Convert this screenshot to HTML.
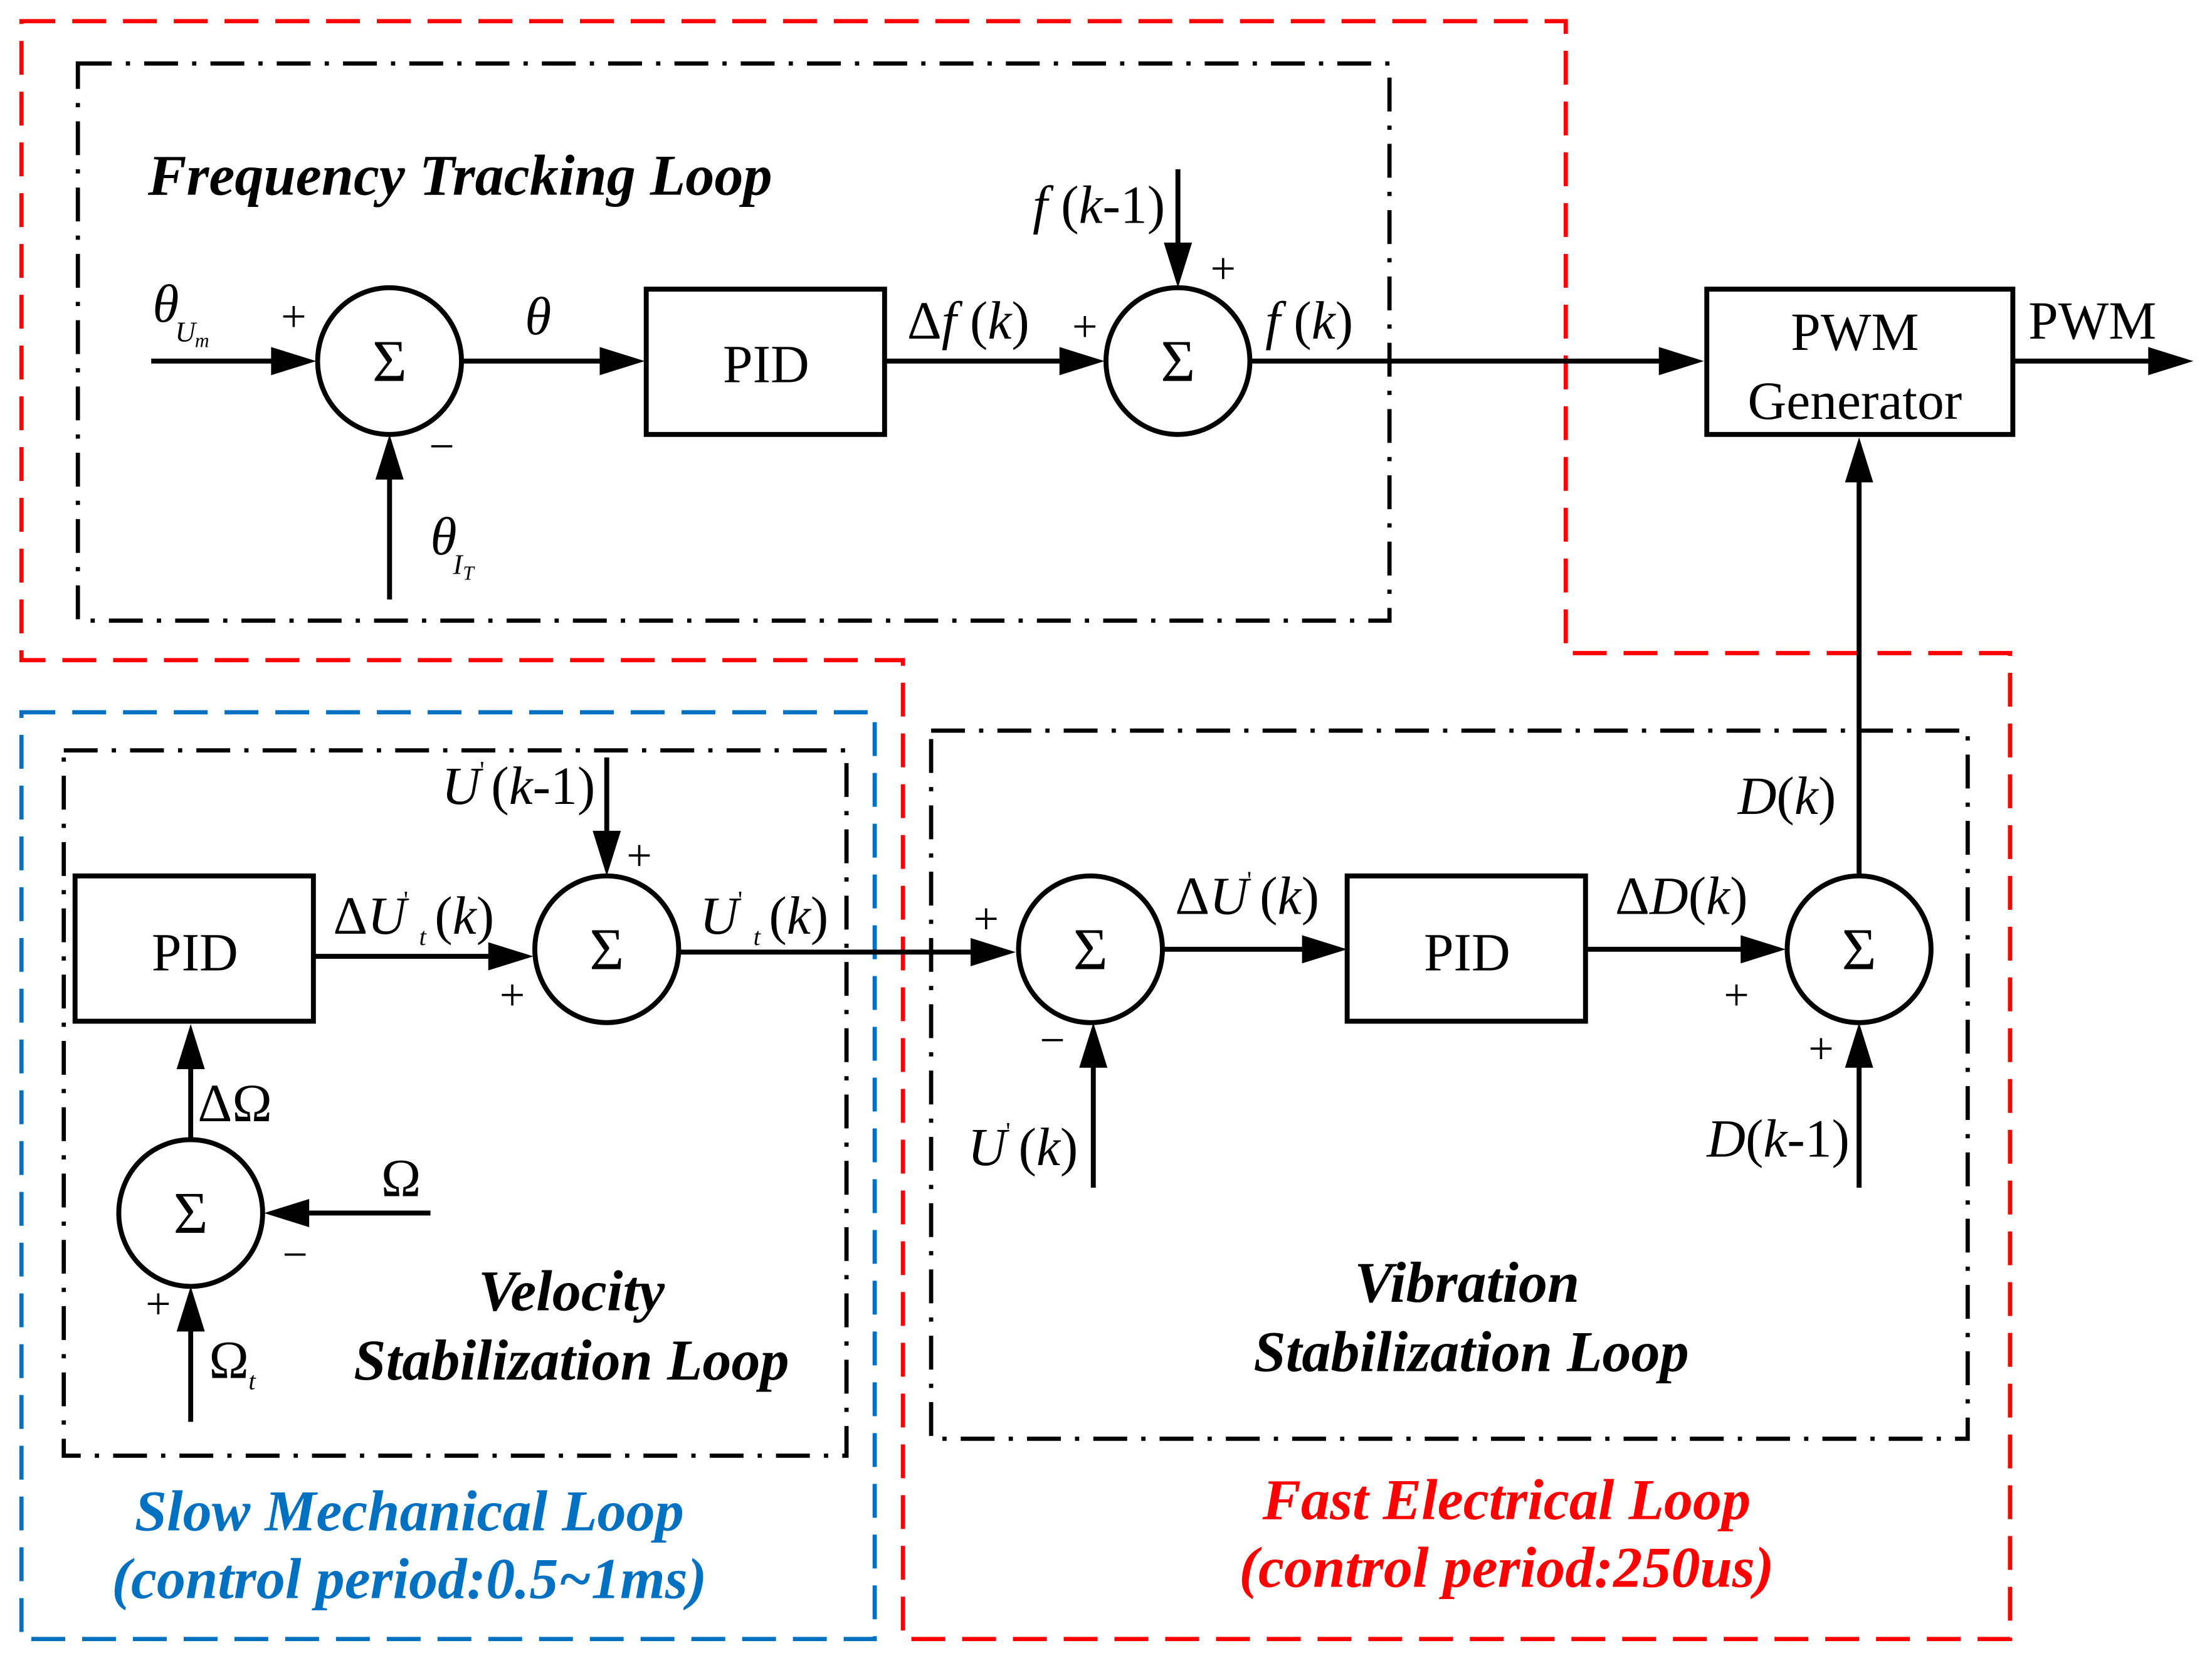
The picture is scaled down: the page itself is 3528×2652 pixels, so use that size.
<!DOCTYPE html>
<html><head><meta charset="utf-8"><style>
html,body{margin:0;padding:0;background:#fff;}
svg{display:block;}
svg text{font-family:"Liberation Serif","DejaVu Serif",serif;fill:#000;}
.t{font-size:38px;}
.b{font-weight:bold;font-style:italic;font-size:41px;}
.i{font-style:italic;}
</style></head><body>
<svg width="3528" height="2652" viewBox="0 0 1568 1179" xmlns="http://www.w3.org/2000/svg" font-family="Liberation Serif, DejaVu Serif, serif">
<g fill="none">
<polygon points="15,15 1110,15 1110,463 1425,463 1425,1162 640,1162 640,468 15,468" stroke="#ff0000" stroke-width="3" stroke-dasharray="24,12"/>
<rect x="15" y="505" width="605" height="657" stroke="#0070c0" stroke-width="3" stroke-dasharray="24,12"/>
<g stroke="#000" stroke-width="3" stroke-dasharray="24,10,3,10">
<rect x="55" y="45" width="930" height="395"/>
<rect x="45" y="532" width="555" height="500"/>
<rect x="660" y="518" width="735" height="502"/>
</g>
<g stroke="#000" stroke-width="3.5">
<ellipse cx="276" cy="256" rx="51" ry="52"/>
<ellipse cx="835" cy="256" rx="51" ry="52"/>
<ellipse cx="430" cy="673" rx="51" ry="52"/>
<ellipse cx="773" cy="673" rx="51" ry="52"/>
<ellipse cx="1318" cy="673" rx="51" ry="52"/>
<ellipse cx="135" cy="860" rx="51" ry="52"/>
<rect x="458" y="205" width="169" height="103"/>
<rect x="1210" y="205" width="217" height="103"/>
<rect x="53" y="621" width="169" height="103"/>
<rect x="955" y="621" width="169" height="103"/>
<path d="M107 256H200 M276 425V330 M328 256H430 M627 256H758 M835 120V180 M887 256H1182 M1427 256H1528 M1318 620V334 M222 678H352 M430 537V597 M482 675H694 M775 842V750 M825 673H929 M1124 673H1239 M1318 842V750 M135 808V752 M305 860H213 M135 1008V938"/>
</g>
</g>
<g fill="#000">
<polygon points="224,256 192,246 192,266"/>
<polygon points="276,308 266,340 286,340"/>
<polygon points="457,256 425,246 425,266"/>
<polygon points="783,256 751,246 751,266"/>
<polygon points="835,204 825,172 845,172"/>
<polygon points="1208,256 1176,246 1176,266"/>
<polygon points="1555,256 1523,246 1523,266"/>
<polygon points="1318,310 1308,342 1328,342"/>
<polygon points="378,678 346,668 346,688"/>
<polygon points="430,621 420,589 440,589"/>
<polygon points="720,675 688,665 688,685"/>
<polygon points="775,725 765,757 785,757"/>
<polygon points="955,673 923,663 923,683"/>
<polygon points="1266,673 1234,663 1234,683"/>
<polygon points="1318,725 1308,757 1328,757"/>
<polygon points="135,726 125,758 145,758"/>
<polygon points="187,860 219,850 219,870"/>
<polygon points="135,912 125,944 145,944"/>
</g>
<g class="t" text-anchor="middle">
<text x="276" y="270" font-size="42">Σ</text>
<text x="835" y="270" font-size="42">Σ</text>
<text x="430" y="687" font-size="42">Σ</text>
<text x="773" y="687" font-size="42">Σ</text>
<text x="1318" y="687" font-size="42">Σ</text>
<text x="135" y="874" font-size="42">Σ</text>
<text x="543" y="271">PID</text>
<text x="138" y="688">PID</text>
<text x="1040" y="688">PID</text>
<text x="1315" y="248">PWM</text>
<text x="1315" y="297">Generator</text>
</g>
<g class="t">
<text x="1438" y="240">PWM</text>
<text x="108" y="228" class="i">θ</text><text x="124" y="242" font-size="20" class="i">U</text><text x="138" y="246" font-size="14" class="i">m</text>
<text x="305" y="393" class="i">θ</text><text x="321" y="407" font-size="20" class="i">I</text><text x="328" y="411" font-size="14" class="i">T</text>
<text x="372" y="237" class="i">θ</text>
<text x="643" y="240">Δ<tspan class="i">f</tspan> (<tspan class="i">k</tspan>)</text>
<text x="732" y="158"><tspan class="i">f</tspan> (<tspan class="i">k</tspan>-1)</text>
<text x="897" y="240"><tspan class="i">f</tspan> (<tspan class="i">k</tspan>)</text>
<text x="1232" y="577"><tspan class="i">D</tspan>(<tspan class="i">k</tspan>)</text>
<text x="313" y="570" class="i">U</text><text x="340" y="552" font-size="18">'</text><text x="348" y="570">(<tspan class="i">k</tspan>-1)</text>
<text x="236" y="662">Δ<tspan class="i">U</tspan></text><text x="286" y="644" font-size="18">'</text><text x="297" y="670" font-size="18" class="i">t</text><text x="308" y="662">(<tspan class="i">k</tspan>)</text>
<text x="496" y="662" class="i">U</text><text x="523" y="644" font-size="18">'</text><text x="534" y="670" font-size="18" class="i">t</text><text x="545" y="662">(<tspan class="i">k</tspan>)</text>
<text x="833" y="648">Δ<tspan class="i">U</tspan></text><text x="884" y="630" font-size="18">'</text><text x="893" y="648">(<tspan class="i">k</tspan>)</text>
<text x="686" y="826" class="i">U</text><text x="713" y="808" font-size="18">'</text><text x="722" y="826">(<tspan class="i">k</tspan>)</text>
<text x="1145" y="648">Δ<tspan class="i">D</tspan>(<tspan class="i">k</tspan>)</text>
<text x="1210" y="820"><tspan class="i">D</tspan>(<tspan class="i">k</tspan>-1)</text>
<text x="140" y="795">ΔΩ</text>
<text x="270" y="848">Ω</text>
<text x="148" y="977">Ω</text><text x="176" y="985" font-size="18" class="i">t</text>
</g>
<g font-size="32">
<text x="199" y="235">+</text><text x="304" y="327">−</text>
<text x="760" y="242">+</text><text x="858" y="201">+</text>
<text x="444" y="617">+</text><text x="354" y="716">+</text>
<text x="690" y="662">+</text><text x="737" y="748">−</text>
<text x="1222" y="716">+</text><text x="1282" y="754">+</text>
<text x="200" y="900">−</text><text x="103" y="935">+</text>
</g>
<g class="b" text-anchor="middle">
<text x="326" y="138">Frequency Tracking Loop</text>
<text x="405" y="929">Velocity</text>
<text x="405" y="978">Stabilization Loop</text>
<text x="1040" y="923">Vibration</text>
<text x="1043" y="972">Stabilization Loop</text>
<text x="290" y="1085" style="fill:#0070c0">Slow Mechanical Loop</text>
<text x="290" y="1133" style="fill:#0070c0">(control period:0.5~1ms)</text>
<text x="1068" y="1077" style="fill:#ff0000">Fast Electrical Loop</text>
<text x="1068" y="1125" style="fill:#ff0000">(control period:250us)</text>
</g>
</svg>
</body></html>
